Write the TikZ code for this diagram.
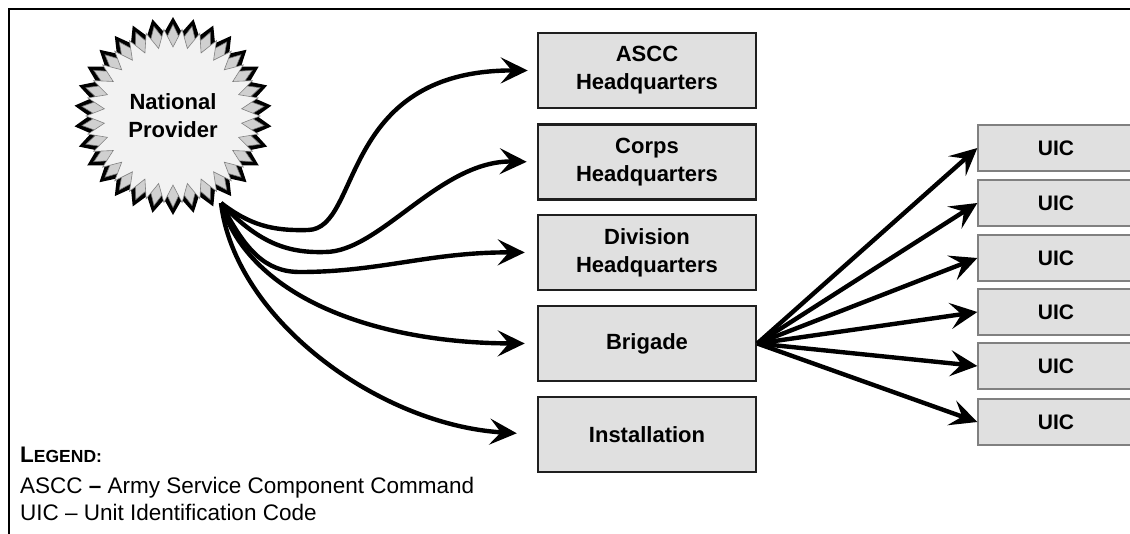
\documentclass[tikz,border=0pt]{standalone}
\usepackage{fontspec}
\setmainfont{Liberation Sans}
\usetikzlibrary{arrows.meta,shapes.geometric}
\definecolor{boxgray}{HTML}{E0E0E0}
\definecolor{starlight}{HTML}{F2F2F2}
\definecolor{stargray}{HTML}{D0D0D0}
\begin{document}
\begin{tikzpicture}[x=1pt,y=-1pt,
  hq/.style={draw=black!88, line width=2.5pt, fill=boxgray, minimum width=218pt, minimum height=75pt,
    font=\fontsize{22}{28}\selectfont\bfseries, align=center, inner sep=0pt},
  uic/.style={draw=black!50, line width=1.3pt, fill=boxgray, minimum width=156pt, minimum height=46pt,
    font=\fontsize{21}{25}\selectfont\bfseries, inner sep=0pt},
  arr/.style={line width=4.4pt, -{Stealth[length=27pt,width=26pt,inset=11pt]}},
  legendtxt/.style={anchor=base west, inner sep=0pt, font=\fontsize{22.5}{27}\selectfont},
  burst/.style={star, star points=30, inner sep=0pt},
]
\clip (0,0) rectangle (1130,533);
\useasboundingbox (0,0) rectangle (1130,533);
\fill[white] (0,0) rectangle (1130,533);
% frame
\draw[line width=2.5pt] (9,545) -- (9,9) -- (1145,9);

% star (bevelled starburst)
\node[burst, star point height=15pt, minimum size=198pt, fill=black] (starA) at (173,116) {};
\node[burst, star point height=16pt, minimum size=183pt, fill=stargray, draw=black!55, line width=0.6pt] (starB) at (173,116) {};
\node[burst, star point height=18pt, minimum size=174pt, shape border rotate=6, fill=starlight, draw=black!50, line width=0.6pt,
  align=center, font=\fontsize{22}{28}\selectfont\bfseries] (np) at (173,116) {National\\Provider};

% middle boxes
\node[hq] (ascc) at (647,70.5) {ASCC\\Headquarters};
\node[hq] (corps) at (647,162) {Corps\\Headquarters};
\node[hq] (div) at (647,252.5) {Division\\Headquarters};
\node[hq] (brig) at (647,343.5) {Brigade};
\node[hq] (inst) at (647,434.5) {Installation};

% UIC boxes
\node[uic] (u1) at (1056,148) {UIC};
\node[uic] (u2) at (1056,203) {UIC};
\node[uic] (u3) at (1056,258) {UIC};
\node[uic] (u4) at (1056,312) {UIC};
\node[uic] (u5) at (1056,366) {UIC};
\node[uic] (u6) at (1056,422) {UIC};

% connectors from the national provider
\coordinate (S) at (221,203);
\draw[arr, shorten >=9pt] (S) .. controls (250,225) and (272,231) .. (308,230)
  .. controls (362,229) and (338,70) .. (ascc.west);
\draw[arr, shorten >=10pt] (S) .. controls (260,245) and (290,253) .. (325,252)
  .. controls (380,252) and (440,160) .. (corps.west);
\draw[arr, shorten >=12pt] (S) .. controls (245,250) and (265,272) .. (300,272)
  .. controls (380,272) and (430,252) .. (div.west);
\draw[arr, shorten >=12pt] (S) .. controls (250,300) and (380,343) .. (brig.west);
\draw[arr, shorten >=20pt] (S) .. controls (235,320) and (380,425) .. (inst.west);

% connectors from brigade
\foreach \u in {u1,u2,u3,u4,u5,u6}
  \draw[arr] (brig.east) -- (\u.west);

% legend
\node[legendtxt, font=\fontsize{22.5}{27}\selectfont\bfseries] (lg) at (20,462) {L{\fontsize{17.5}{20}\selectfont EGEND:}};
\node[legendtxt] (l1) at (20,493) {ASCC \textbf{–} Army Service Component Command};
\node[legendtxt] (l2) at (20,520) {UIC – Unit Identification Code};
\end{tikzpicture}
\end{document}
